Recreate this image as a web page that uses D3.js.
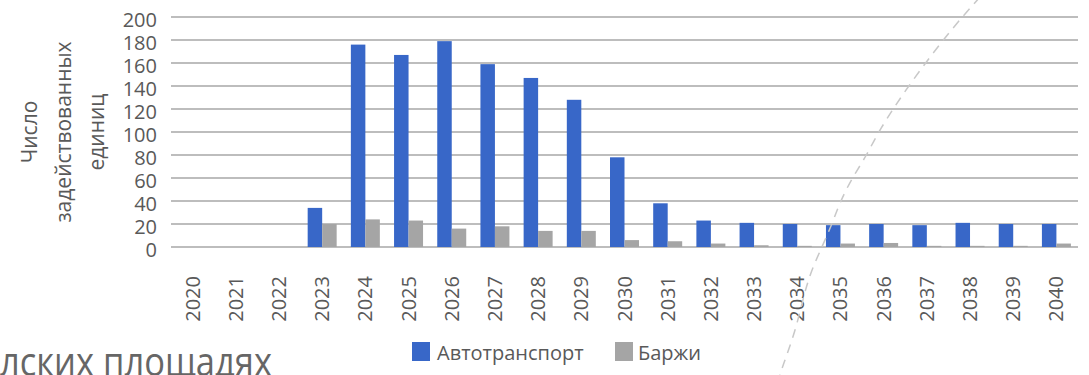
<!DOCTYPE html>
<html><head><meta charset="utf-8">
<script src="https://cdn.jsdelivr.net/npm/d3@7"></script>
<style>
html,body{margin:0;padding:0;background:#fff;overflow:hidden}
svg{display:block}
text{font-family:"Open Sans",sans-serif;fill:#595959}
</style></head>
<body>
<svg id="chart" width="1089" height="375"></svg>
<script>
const years = ["2020","2021","2022","2023","2024","2025","2026","2027","2028","2029","2030","2031","2032","2033","2034","2035","2036","2037","2038","2039","2040"];
const avto = [0,0,0,34,176,167,179,159,147,128,78,38,23,21,20,19,20,19,21,20,20];
const barzhi = [0,0,0,20,24,23,16,18,14,14,6,5,3,1.5,1,3,3.5,1,1,1,3];
const seriesNames = ["Автотранспорт","Баржи"];
const seriesColors = ["#3867c8","#a5a5a5"];
const yTicks = [0,20,40,60,80,100,120,140,160,180,200];
const yTitle = ["Число","задействованных","единиц"];
const footText = "лских площадях";
// decorative dashed arc from the screenshot (pixel path)
const arcPts = [[980,-3],[963,16],[943,40],[908,86],[878,132],[867,155],[852,178],[840,202],[832,224],[822,247],[807,280],[797,327],[782,368],[779,378]];

const svg = d3.select("#chart");
const x = d3.scaleBand().domain(years).range([171,1078]).paddingInner(0).paddingOuter(0);
const xs = d3.scaleBand().domain(seriesNames).range([0,x.bandwidth()]).paddingInner(0).paddingOuter(0.49);
const y = d3.scaleLinear().domain([0,200]).range([247,17]);

// gridlines
svg.append("g").selectAll("line").data(yTicks).join("line")
  .attr("x1",171).attr("x2",1078)
  .attr("y1",d=>y(d)).attr("y2",d=>y(d))
  .attr("stroke","#bdbdbd").attr("stroke-width",2);

// y tick labels
svg.append("g").selectAll("text").data(yTicks).join("text")
  .attr("x",157).attr("y",d=>y(d)+3).attr("dy","0.35em")
  .attr("text-anchor","end").attr("font-size",20).text(d=>d);

// bars
const data = [avto,barzhi];
data.forEach((vals,si)=>{
  svg.append("g").selectAll("rect").data(vals.map((v,i)=>({year:years[i],v})).filter(d=>d.v>0)).join("rect")
    .attr("x",d=>x(d.year)+xs(seriesNames[si]))
    .attr("width",xs.bandwidth())
    .attr("y",d=>y(d.v))
    .attr("height",d=>y(0)-y(d.v))
    .attr("fill",seriesColors[si]);
});

// x labels
svg.append("g").selectAll("text").data(years).join("text")
  .attr("transform",d=>`translate(${x(d)+x.bandwidth()/2},276) rotate(-90)`)
  .attr("dy","0.35em").attr("text-anchor","end").attr("font-size",20).text(d=>d);

// y title
const titleX = [30,64,97];
svg.append("g").selectAll("text").data(yTitle).join("text")
  .attr("transform",(d,i)=>`translate(${titleX[i]},132) rotate(-90)`)
  .attr("dy","0.35em").attr("text-anchor","middle").attr("font-size",21).text(d=>d);

// legend
const legX = [412,615], legTX=[437,638];
seriesNames.forEach((n,i)=>{
  svg.append("rect").attr("x",legX[i]).attr("y",342).attr("width",18).attr("height",19).attr("fill",seriesColors[i]);
  svg.append("text").attr("x",legTX[i]).attr("y",360).attr("font-size",20).text(n);
});

// dashed arc
svg.append("path").attr("d",d3.line().curve(d3.curveBasis)(arcPts))
  .attr("fill","none").attr("stroke","#c8c8c8").attr("stroke-width",1.5).attr("stroke-dasharray","9,7");

// footer partial text
svg.append("text").attr("x",0).attr("y",376).attr("font-size",40)
  .attr("textLength",272).attr("lengthAdjust","spacingAndGlyphs")
  .style("fill","#666").text(footText);
</script>
</body></html>
